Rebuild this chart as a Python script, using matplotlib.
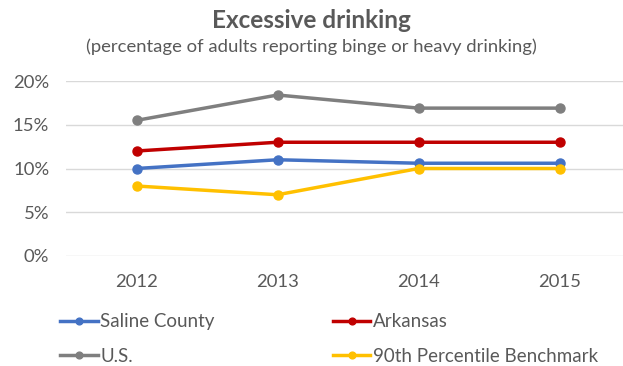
import matplotlib.pyplot as plt
from matplotlib.ticker import FuncFormatter

plt.rcParams['font.family'] = ['Lato', 'DejaVu Sans']

years = ['2012', '2013', '2014', '2015']
saline = [10, 11, 10.6, 10.6]
arkansas = [12, 13, 13, 13]
us = [15.5, 18.4, 16.9, 16.9]
benchmark = [8, 7, 10, 10]

text_gray = '#595959'

fig = plt.figure(figsize=(6.23, 3.66), dpi=100)
ax = fig.add_axes([66 / 623, 1 - 256 / 366, 1 - 66 / 623, (256 - 81) / 366])

x = range(len(years))
# order so that the two-column legend reads Saline/Arkansas, U.S./Benchmark
series = [
    ('Saline County', saline, '#4472C4'),
    ('U.S.', us, '#7F7F7F'),
    ('Arkansas', arkansas, '#C00000'),
    ('90th Percentile Benchmark', benchmark, '#FFC000'),
]
handles = []
for name, vals, col in series:
    h, = ax.plot(x, vals, color=col, lw=2.5, marker='o', ms=6.5, label=name)
    handles.append(h)

ax.set_xlim(-0.5, 3.45)
ax.set_ylim(0, 20)
ax.set_yticks([0, 5, 10, 15, 20])
ax.yaxis.set_major_formatter(FuncFormatter(lambda v, p: f'{v:.0f}%'))
ax.set_xticks(list(x))
ax.set_xticklabels(years)
ax.grid(axis='y', color='#D9D9D9', lw=1)
ax.set_axisbelow(True)
for s in ax.spines.values():
    s.set_visible(False)
ax.tick_params(length=0, labelsize=13.3, colors=text_gray)
ax.tick_params(axis='x', pad=13)
ax.tick_params(axis='y', pad=12)

fig.text(0.5, 1 - 20 / 366, 'Excessive drinking', ha='center', va='center',
         fontsize=17.5, fontweight='bold', color=text_gray)
fig.text(0.5, 1 - 47 / 366, '(percentage of adults reporting binge or heavy drinking)',
         ha='center', va='center', fontsize=13.3, color=text_gray)

fig.legend(handles=handles, loc='center left', bbox_to_anchor=(60 / 623, 1 - 339 / 366),
           ncol=2, frameon=False, fontsize=13.5, labelcolor=text_gray,
           handlelength=2.0, handletextpad=0.15, columnspacing=6.3, labelspacing=0.95,
           borderpad=0, borderaxespad=0, markerscale=0.75)

fig.savefig('out.png', dpi=100)
